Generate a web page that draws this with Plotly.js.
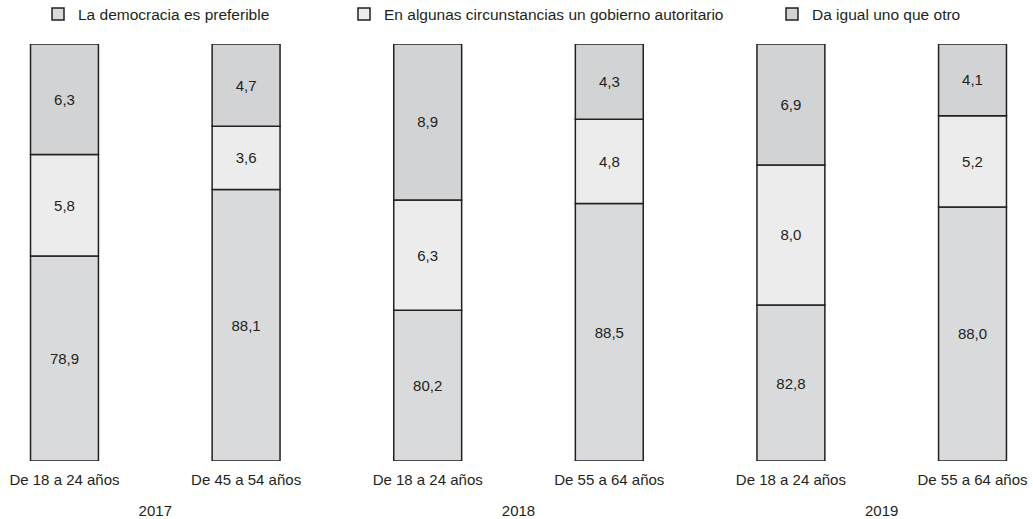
<!DOCTYPE html>
<html><head><meta charset="utf-8">
<script src="https://cdn.plot.ly/plotly-3.0.1.min.js"></script>
<style>html,body{margin:0;padding:0;background:#fff}#chart{width:1033px;height:519px}</style>
</head><body><div id="chart"></div>
<script>
// ---- data ----
const years = ['2017', '2017', '2018', '2018', '2019', '2019'];
const ageGroups = ['De 18 a 24 años', 'De 45 a 54 años', 'De 18 a 24 años', 'De 55 a 64 años', 'De 18 a 24 años', 'De 55 a 64 años'];
const democracia = [78.9, 88.1, 80.2, 88.5, 82.8, 88.0];
const autoritario = [5.8, 3.6, 6.3, 4.8, 8.0, 5.2];
const daIgual = [6.3, 4.7, 8.9, 4.3, 6.9, 4.1];
const seriesNames = ['La democracia es preferible', 'En algunas circunstancias un gobierno autoritario', 'Da igual uno que otro'];
const TOTAL = 100;     // bars are drawn down from 100 %
const AXIS_MIN = 76.2; // truncated value axis (hidden)

// ---- styles ----
const FONT = 'Liberation Sans, Arial, Helvetica, sans-serif';
const INK = '#231f20';
const colors = ['#d9dadc', '#ebeceb', '#d2d3d5'];
const outline = {color: INK, width: 1.5};

// stacking from the top (100) downwards; the last segment fills to the axis floor
const topBase = daIgual.map(v => TOTAL - v);
const midBase = daIgual.map((v, i) => TOTAL - v - autoritario[i]);
const demHeight = midBase.map(b => b - AXIS_MIN);

// second row spacing: an extra blank line under each age label
const ageTickText = ageGroups.map(s => s + '<br>\u00a0');
const x = [years, ageTickText];
const common = {
  type: 'bar', x: x, textposition: 'inside', insidetextanchor: 'middle', textangle: 0,
  textfont: {family: FONT, size: 15, color: INK},
  marker: {line: outline}
};

const traces = [
  Object.assign({}, common, {
    name: seriesNames[0], legend: 'legend',
    y: demHeight, base: Array(demHeight.length).fill(AXIS_MIN), customdata: democracia,
    texttemplate: '%{customdata:.1f}', hovertemplate: '%{customdata:.1f}<extra>' + seriesNames[0] + '</extra>',
    marker: {color: colors[0], line: outline}
  }),
  Object.assign({}, common, {
    name: seriesNames[1], legend: 'legend2',
    y: autoritario, base: midBase, customdata: autoritario,
    texttemplate: '%{customdata:.1f}', hovertemplate: '%{customdata:.1f}<extra>' + seriesNames[1] + '</extra>',
    marker: {color: colors[1], line: outline}
  }),
  Object.assign({}, common, {
    name: seriesNames[2], legend: 'legend3',
    y: daIgual, base: topBase, customdata: daIgual,
    texttemplate: '%{customdata:.1f}', hovertemplate: '%{customdata:.1f}<extra>' + seriesNames[2] + '</extra>',
    marker: {color: colors[2], line: outline}
  })
];

const L = 10, R = 6, T = 44, B = 58;
const legBase = {orientation: 'h', xref: 'container', yref: 'container', yanchor: 'middle', y: 1 - 14.5 / 519,
  xanchor: 'left', font: {family: FONT, size: 15.5, color: INK}, bgcolor: 'rgba(0,0,0,0)', borderwidth: 0};

const layout = {
  width: 1033, height: 519,
  margin: {l: L, r: R, t: T, b: B, pad: 0, autoexpand: false},
  paper_bgcolor: '#fff', plot_bgcolor: '#fff',
  font: {family: FONT, size: 15, color: INK},
  separators: ',.',
  barmode: 'overlay', bargap: 0.626,
  showlegend: true,
  legend: Object.assign({}, legBase, {x: 38 / 1033}),
  legend2: Object.assign({}, legBase, {x: 344 / 1033}),
  legend3: Object.assign({}, legBase, {x: 772 / 1033}),
  xaxis: {type: 'multicategory', range: [-0.3, 5.3], showdividers: false, showgrid: false,
    zeroline: false, showline: false, ticks: '', ticklabelstandoff: 8, automargin: false,
    tickfont: {family: FONT, size: 15, color: INK}},
  yaxis: {range: [AXIS_MIN, TOTAL], visible: false, showgrid: false, zeroline: false, fixedrange: true}
};

Plotly.newPlot('chart', traces, layout, {displayModeBar: false, staticPlot: true});
</script>
</body></html>
